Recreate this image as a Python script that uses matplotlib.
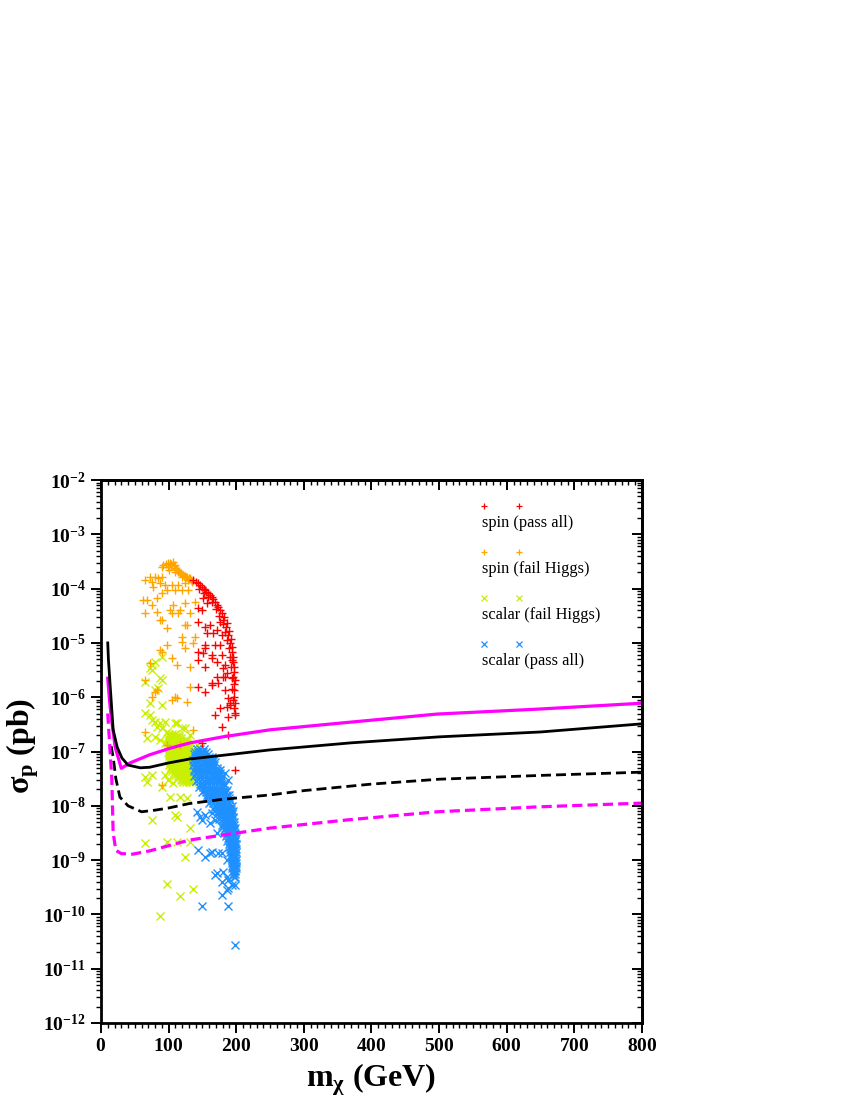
import numpy as np
import matplotlib
matplotlib.use('Agg')
import matplotlib.pyplot as plt
from matplotlib.ticker import MultipleLocator, LogLocator, FuncFormatter, NullFormatter

plt.rcParams['font.family'] = 'Liberation Serif'
plt.rcParams['mathtext.fontset'] = 'custom'
plt.rcParams['mathtext.rm'] = 'Liberation Serif:bold'
plt.rcParams['mathtext.it'] = 'Liberation Serif:bold'
plt.rcParams['mathtext.bf'] = 'Liberation Serif:bold'

# ---- limit curves: mass (GeV), log10(sigma_p / pb)
black_solid_m = [10, 11, 13, 18, 24, 31, 40, 58, 72, 100, 130, 180, 250, 370, 500, 650, 800]
black_solid_log = [-5.0, -5.3, -5.68, -6.60, -6.92, -7.12, -7.25, -7.30, -7.29, -7.21, -7.14,
                   -7.07, -6.97, -6.84, -6.73, -6.64, -6.49]

magenta_solid_m = [10, 13, 16, 21, 30, 43, 72, 102, 132, 180, 250, 368, 497, 645, 800]
magenta_solid_log = [-5.65, -6.11, -6.45, -6.92, -7.31, -7.21, -7.06, -6.94, -6.84, -6.73,
                     -6.60, -6.46, -6.31, -6.22, -6.11]

black_dashed_m = [15, 18, 22, 28, 40, 60, 80, 100, 130, 180, 250, 300, 400, 500, 650, 800]
black_dashed_log = [-6.9, -7.1, -7.5, -7.84, -8.0, -8.11, -8.08, -8.04, -7.96, -7.88, -7.80,
                    -7.72, -7.60, -7.51, -7.44, -7.38]

magenta_dashed_m = [10, 13, 16, 18, 22, 30, 47, 72, 131, 250, 364, 497, 645, 800]
magenta_dashed_log = [-6.3, -6.9, -7.5, -8.5, -8.82, -8.88, -8.89, -8.83, -8.63, -8.41,
                      -8.26, -8.11, -8.02, -7.95]

# ---- model points: (mass, log10 sigma)
spin_pass = [
    (136, -3.84), (140, -3.87), (143, -3.90), (146, -3.93), (149, -3.97), (152, -4.00),
    (154, -4.03), (156, -4.06), (158, -4.08), (161, -4.12), (164, -4.15), (166, -4.20),
    (169, -4.25), (171, -4.30), (173, -4.34), (176, -4.40), (179, -4.45), (182, -4.52),
    (180, -4.58), (186, -4.64), (185, -4.71), (189, -4.78), (188, -4.86), (192, -4.93),
    (191, -5.00), (193, -5.08), (194, -5.17), (195, -5.25), (194, -5.32), (195, -5.35),
    (196, -5.45), (197, -5.54), (195, -5.63), (198, -5.68), (197, -5.75), (197, -5.87),
    (196, -6.00), (198, -6.11), (197, -6.20), (198, -6.29), (198, -6.33), (191, -6.11),
    (145, -4.00), (152, -4.08), (158, -4.16), (164, -4.25), (170, -4.38), (175, -4.50),
    (180, -4.65), (184, -4.80), (187, -4.95), (189, -5.10), (191, -5.25), (192, -5.45),
    (193, -5.65), (194, -5.85), (195, -6.05),
    (151, -4.17), (157, -4.27), (143, -4.36), (149, -4.39), (143, -4.61), (154, -4.71),
    (161, -4.67), (157, -4.82), (166, -4.82), (176, -4.61), (172, -4.76), (179, -4.86),
    (154, -5.04), (169, -5.04), (176, -5.04), (143, -5.17), (151, -5.19), (164, -5.22),
    (172, -5.35), (179, -5.22), (183, -5.41), (186, -5.55), (180, -5.63), (164, -5.74),
    (173, -5.74), (154, -5.09), (164, -5.28), (143, -5.32), (154, -5.44), (180, -5.46),
    (172, -5.63), (183, -5.63), (143, -5.81), (164, -5.78), (154, -5.90), (183, -5.87),
    (188, -6.01), (191, -6.14), (186, -6.18), (176, -6.20), (169, -6.33), (188, -6.36),
    (179, -6.55), (188, -6.70), (149, -6.84), (198, -7.34),
]

spin_fail = [
    (106, -3.51), (99, -3.53), (90, -3.60), (99, -3.60), (109, -3.62), (112, -3.66),
    (117, -3.71), (121, -3.75), (127, -3.79), (132, -3.81), (135, -3.88), (92, -3.56),
    (102, -3.53), (109, -3.56), (103, -3.58), (114, -3.69), (124, -3.77), (96, -3.55),
    (104, -3.55), (108, -3.58), (111, -3.63), (115, -3.68), (119, -3.72), (123, -3.76),
    (126, -3.78), (130, -3.80), (133, -3.84), (120, -3.78), (128, -3.85), (110, -3.70),
    (101, -3.65),
    (65, -3.84), (72, -3.79), (80, -3.79), (84, -3.81), (77, -3.97), (87, -3.90),
    (95, -3.93), (105, -3.93), (114, -3.93), (124, -3.90), (68, -4.21), (83, -4.17),
    (90, -4.08), (98, -4.03), (109, -4.03), (120, -4.03), (129, -4.03), (75, -4.30),
    (106, -4.30), (124, -4.27), (139, -4.25), (65, -4.45), (83, -4.43), (105, -4.45),
    (114, -4.45), (132, -4.45), (90, -4.58), (124, -4.67), (98, -4.73), (120, -4.89),
    (120, -4.98), (139, -4.89), (136, -5.00), (124, -5.09), (98, -5.04), (90, -5.17),
    (105, -5.28), (112, -5.41), (132, -5.44), (72, -5.37), (65, -5.68), (75, -3.88),
    (90, -3.79), (62, -4.21), (102, -4.39), (117, -4.39), (87, -4.58), (127, -4.67),
    (87, -5.13), (132, -5.81), (75, -6.00), (109, -6.00), (127, -6.09), (80, -5.90),
    (105, -6.05), (112, -6.01), (136, -6.60), (65, -6.64), (98, -6.88), (117, -6.88),
    (90, -7.62), (83, -5.87),
]

scalar_fail = [
    (90, -5.26), (80, -5.35), (75, -5.41), (72, -5.46), (75, -5.50), (87, -5.65),
    (90, -5.68), (65, -5.72), (84, -5.83), (80, -5.87), (72, -6.11), (90, -6.14),
    (65, -6.29), (72, -6.33), (75, -6.42), (80, -6.46), (87, -6.48), (95, -6.46),
    (83, -6.55), (90, -6.57), (98, -6.64), (109, -6.48), (112, -6.48), (124, -6.57),
    (132, -6.70), (120, -6.57), (142, -6.88), (68, -6.75), (80, -6.74), (87, -6.79),
    (95, -6.84), (127, -6.79),
    (65, -7.47), (75, -7.43), (68, -7.56), (95, -7.43), (99, -7.52), (106, -7.58),
    (114, -7.47), (90, -7.65), (102, -7.84), (117, -7.84), (127, -7.86), (109, -8.17),
    (75, -8.26), (112, -8.21), (132, -8.41), (65, -8.69), (98, -8.67), (112, -8.67),
    (132, -8.67), (124, -8.94), (98, -9.44), (136, -9.53), (117, -9.66), (87, -10.03),
]

# dense core of the scalar (fail Higgs) set: log10 sigma -> masses
scalar_fail_core = {
    -6.68: [101, 105, 109],
    -6.72: [100, 104, 108, 112, 116],
    -6.76: [99, 103, 107, 111, 115, 119],
    -6.80: [101, 105, 109, 113, 117, 121, 125],
    -6.84: [99, 103, 107, 111, 115, 119, 123, 127],
    -6.88: [101, 105, 109, 113, 117, 121, 125, 129],
    -6.92: [99, 102, 106, 110, 114, 118, 122, 126, 130],
    -6.96: [101, 104, 108, 112, 116, 120, 124, 128, 132],
    -7.00: [99, 102, 106, 110, 114, 118, 122, 126, 130, 134],
    -7.04: [101, 104, 108, 112, 116, 120, 124, 128, 132, 135],
    -7.08: [100, 104, 108, 112, 116, 120, 124, 128, 132, 135],
    -7.12: [102, 106, 110, 114, 118, 122, 126, 130, 134],
    -7.16: [100, 104, 108, 112, 116, 120, 124, 128, 132, 135],
    -7.20: [102, 106, 110, 114, 118, 122, 126, 130, 134],
    -7.24: [101, 105, 109, 113, 117, 121, 125, 129, 133],
    -7.28: [103, 107, 111, 115, 119, 123, 127, 131, 135],
    -7.32: [102, 106, 110, 114, 118, 122, 126, 130, 134],
    -7.36: [105, 109, 113, 117, 121, 125, 129, 133],
    -7.40: [108, 112, 116, 120, 124, 128, 132],
    -7.44: [110, 114, 118, 122, 126, 130, 134],
    -7.48: [114, 118, 122, 126, 130, 134],
    -7.52: [118, 122, 126, 130, 134],
    -7.56: [122, 126, 130, 134],
}

scalar_pass = [
    (151, -7.00), (164, -7.16), (166, -7.18), (172, -7.34), (176, -7.34), (183, -7.40),
    (179, -7.47), (188, -7.52), (183, -7.62), (142, -8.11), (146, -8.21), (154, -8.17),
    (164, -8.13), (169, -8.26), (149, -8.26), (161, -8.32), (179, -8.39), (172, -8.50),
    (143, -8.81), (154, -8.94), (161, -8.87), (164, -8.85), (173, -8.87), (179, -8.87),
    (186, -9.00), (169, -9.27), (172, -9.24), (180, -9.22), (186, -9.31), (188, -9.36),
    (179, -9.40), (194, -9.46), (198, -9.46), (188, -9.51), (186, -9.55), (179, -9.64),
    (149, -9.85), (188, -9.85), (198, -10.56),
]

# dense band of the scalar (pass all) set: log10 sigma -> masses
scalar_pass_core = {
    -6.95: [142, 147, 152],
    -7.00: [139, 144, 150, 155],
    -7.05: [137, 142, 148, 153, 158],
    -7.10: [139, 144, 149, 154, 159, 164],
    -7.15: [136, 141, 146, 151, 156, 161, 166],
    -7.20: [138, 143, 149, 154, 159, 164, 169],
    -7.25: [136, 141, 146, 152, 157, 162, 167],
    -7.30: [139, 145, 150, 155, 160, 165, 171],
    -7.35: [137, 142, 147, 153, 158, 163, 168, 173],
    -7.40: [140, 146, 152, 158, 164, 170, 176],
    -7.45: [138, 144, 150, 156, 162, 168, 174],
    -7.50: [143, 149, 155, 161, 167, 173, 178],
    -7.55: [141, 147, 153, 159, 165, 171, 177],
    -7.60: [147, 153, 159, 165, 171, 177, 182],
    -7.65: [145, 151, 157, 163, 169, 175, 180],
    -7.70: [152, 158, 164, 170, 176, 182, 186],
    -7.75: [150, 156, 162, 168, 174, 180, 185],
    -7.80: [157, 163, 169, 175, 181, 186, 190],
    -7.85: [155, 161, 167, 173, 179, 185, 189],
    -7.90: [162, 168, 174, 180, 186, 191],
    -7.95: [160, 166, 172, 178, 184, 190],
    -8.00: [168, 174, 179, 185, 190, 193],
    -8.05: [166, 172, 177, 183, 188, 192],
    -8.10: [173, 178, 183, 188, 192, 195],
    -8.15: [171, 176, 181, 186, 191, 194],
    -8.20: [177, 182, 187, 191, 195],
    -8.25: [175, 180, 185, 190, 194],
    -8.30: [181, 186, 190, 194, 197],
    -8.35: [179, 184, 188, 192, 196],
    -8.40: [184, 188, 192, 195, 198],
    -8.45: [182, 186, 190, 194, 197],
    -8.50: [186, 190, 194, 198],
    -8.55: [185, 189, 193, 197],
    -8.60: [188, 192, 196, 199],
    -8.65: [187, 191, 194, 198],
    -8.70: [190, 193, 196, 199],
    -8.75: [189, 192, 195, 198],
    -8.80: [191, 194, 197, 199],
    -8.85: [191, 194, 197, 199],
    -8.90: [192, 195, 198],
    -8.95: [192, 195, 198],
    -9.00: [193, 196, 199],
    -9.05: [193, 196, 199],
    -9.10: [194, 197, 199],
    -9.15: [194, 197, 199],
    -9.20: [195, 198],
    -9.25: [195, 198],
    -9.32: [196, 198],
}

legend_labels = ['spin (pass all)', 'spin (fail Higgs)', 'scalar (fail Higgs)', 'scalar (pass all)']
legend_colors = ['#ff0000', '#ffa500', '#c8f000', '#1e90ff']
legend_markers = ['+', '+', 'x', 'x']


def split(pairs):
    a = np.array(pairs, dtype=float)
    return a[:, 0], 10.0 ** a[:, 1]


def from_rows(rows):
    return [(m, s) for s, ms in rows.items() for m in ms]


fig = plt.figure(figsize=(8.5, 11), dpi=100)
ax = fig.add_axes([0.1188, 0.07, 0.6365, 0.4936])

mk = dict(linestyle='none', markersize=5.5, markeredgewidth=1.0)

x, y = split(scalar_fail + from_rows(scalar_fail_core))
ax.plot(x, y, marker='x', color=legend_colors[2], **mk)
x, y = split(scalar_pass + from_rows(scalar_pass_core))
ax.plot(x, y, marker='x', color=legend_colors[3], **mk)
x, y = split(spin_fail)
ax.plot(x, y, marker='+', color=legend_colors[1], **mk)
x, y = split(spin_pass)
ax.plot(x, y, marker='+', color=legend_colors[0], **mk)

ax.plot(magenta_solid_m, 10.0 ** np.array(magenta_solid_log), color='#ff00ff', lw=2.3)
ax.plot(black_solid_m, 10.0 ** np.array(black_solid_log), color='black', lw=2.0)
ax.plot(black_dashed_m, 10.0 ** np.array(black_dashed_log), color='black', lw=2.0,
        dashes=(3.6, 1.8))
ax.plot(magenta_dashed_m, 10.0 ** np.array(magenta_dashed_log), color='#ff00ff', lw=2.3,
        dashes=(3.2, 1.6))

ax.set_yscale('log')
ax.set_xlim(0, 800)
ax.set_ylim(1e-12, 1e-2)

# ticks: outward on bottom/left, inward on top/right
ax.xaxis.set_major_locator(MultipleLocator(100))
ax.xaxis.set_minor_locator(MultipleLocator(10))
ax.xaxis.set_major_formatter(FuncFormatter(lambda v, p: r'$\mathrm{%d}$' % int(round(v))))
ax.yaxis.set_major_locator(LogLocator(base=10, numticks=20))
ax.yaxis.set_minor_locator(LogLocator(base=10, subs=np.arange(2, 10), numticks=20))
ax.yaxis.set_major_formatter(FuncFormatter(lambda v, p: r'$\mathrm{10^{%d}}$' % int(round(np.log10(v)))))
ax.yaxis.set_minor_formatter(NullFormatter())
ax.tick_params(which='major', direction='out', length=7, width=1.4, labelsize=14, top=False, right=False)
ax.tick_params(which='minor', direction='out', length=3.5, width=1.0, top=False, right=False)
ax.tick_params(axis='x', pad=4)
ax.tick_params(axis='y', pad=4)

secx = ax.secondary_xaxis('top')
secx.xaxis.set_major_locator(MultipleLocator(100))
secx.xaxis.set_minor_locator(MultipleLocator(10))
secx.xaxis.set_major_formatter(NullFormatter())
secx.tick_params(which='major', direction='in', length=7, width=1.4)
secx.tick_params(which='minor', direction='in', length=3.5, width=1.0)

secy = ax.secondary_yaxis('right')
secy.yaxis.set_major_locator(LogLocator(base=10, numticks=20))
secy.yaxis.set_minor_locator(LogLocator(base=10, subs=np.arange(2, 10), numticks=20))
secy.yaxis.set_major_formatter(NullFormatter())
secy.yaxis.set_minor_formatter(NullFormatter())
secy.tick_params(which='major', direction='in', length=7, width=1.4)
secy.tick_params(which='minor', direction='in', length=3.5, width=1.0)

for sp in list(ax.spines.values()) + list(secx.spines.values()) + list(secy.spines.values()):
    sp.set_linewidth(2.0)

ax.set_xlabel(r'$\mathrm{m}_{\chi}$ (GeV)', fontsize=23, fontweight='bold')
ax.xaxis.set_label_coords(0.5, -0.07)
ax.set_ylabel(r'$\sigma_{\mathrm{p}}$ (pb)', fontsize=23, fontweight='bold')
ax.yaxis.set_label_coords(-0.11, 0.51)

# legend: two markers above each label
for i, (lab, col, m) in enumerate(zip(legend_labels, legend_colors, legend_markers)):
    yy = 0.952 - i * 0.0847
    ax.plot([0.708, 0.773], [yy, yy], transform=ax.transAxes, linestyle='none', marker=m,
            color=col, markersize=4, markeredgewidth=0.9, clip_on=False)
    ax.text(0.704, yy - 0.039, lab, transform=ax.transAxes, fontsize=11.8, va='baseline', ha='left')

fig.savefig('out.png', dpi=100)
